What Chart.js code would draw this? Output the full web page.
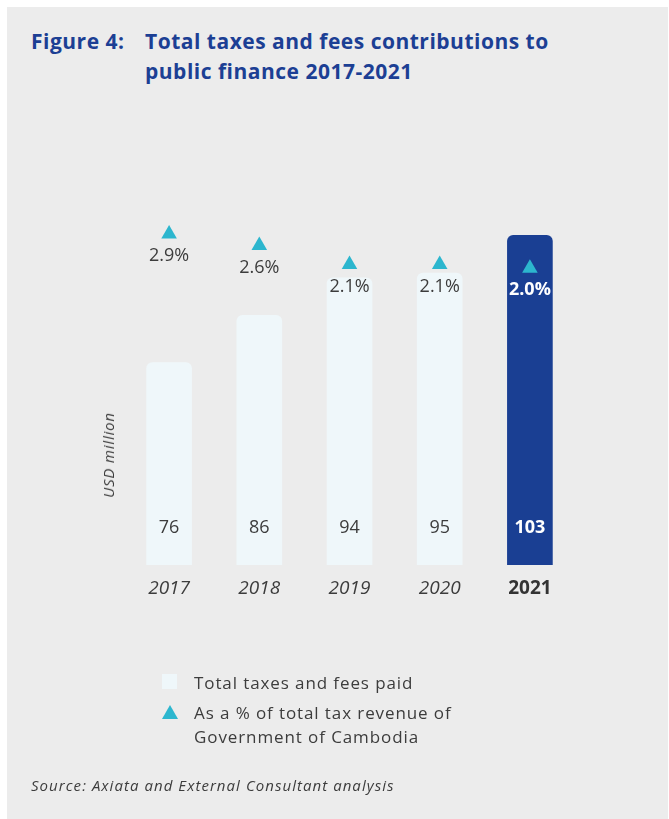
<!DOCTYPE html>
<html>
<head>
<meta charset="utf-8">
<script src="https://cdn.jsdelivr.net/npm/chart.js@4.4.1/dist/chart.umd.min.js"></script>
<style>
  body { margin: 0; background: #fff; width: 669px; height: 819px; overflow: hidden; }
  #panel { position: absolute; left: 7px; top: 7px; width: 661px; height: 812px; background: #ececec; }
  #chart { position: absolute; left: 0; top: 0; }
  .title { position: absolute; font-family: "Open Sans", sans-serif; font-weight: bold; font-size: 21px; letter-spacing: 0.5px; color: #1c3f94; white-space: nowrap; }
  .txt { position: absolute; font-family: "Open Sans", sans-serif; color: #3c3c3c; white-space: nowrap; }
  #ytitle { left: 108px; top: 455px; font-size: 15px; font-style: italic; letter-spacing: 0.8px; transform: translate(-50%, -50%) rotate(-90deg); }
  .legend { font-size: 17px; letter-spacing: 0.9px; }
  #sq { position: absolute; left: 162px; top: 674px; width: 15px; height: 15px; background: #eff7fa; }
  #tri { position: absolute; left: 162px; top: 705px; width: 16px; height: 14px; background: #2cb6ce; clip-path: polygon(50% 0, 100% 100%, 0 100%); }
  #source { left: 31px; top: 775px; font-size: 15px; font-style: italic; letter-spacing: 1.05px; }
</style>
</head>
<body>
<div id="panel"></div>
<div class="title" style="left:31px; top:27px;">Figure 4:</div>
<div class="title" style="left:145px; top:27px;">Total taxes and fees contributions to</div>
<div class="title" style="left:145px; top:57px;">public finance 2017-2021</div>
<canvas id="chart" width="669" height="819"></canvas>
<div class="txt" id="ytitle">USD million</div>
<div id="sq"></div>
<div class="txt legend" style="left:194px; top:671px;">Total taxes and fees paid</div>
<div id="tri"></div>
<div class="txt legend" style="left:194px; top:701px;">As a % of total tax revenue of</div>
<div class="txt legend" style="left:194px; top:725px;">Government of Cambodia</div>
<div class="txt" id="source">Source: Axiata and External Consultant analysis</div>

<script>
// data
var years = ['2017', '2018', '2019', '2020', '2021']
var taxesPaid = [76, 86, 94, 95, 103]          // USD million
var shareOfRevenue = [2.9, 2.6, 2.1, 2.1, 2.0] // % of total tax revenue

var lightBar = '#eff7fa'
var darkBar = '#1a3f93'
var teal = '#2cb6ce'
var textCol = '#3c3c3c'

var barColors = years.map(function (y, i) { return i === years.length - 1 ? darkBar : lightBar })

// writes the numbers: bar values near the base, percentages under the triangles
var valueLabels = {
    id: 'valueLabels',
    afterDatasetsDraw: function (chart) {
        var ctx = chart.ctx
        var area = chart.chartArea
        var last = years.length - 1
        ctx.save()
        ctx.textAlign = 'center'
        ctx.textBaseline = 'middle'

        var bars = chart.getDatasetMeta(1).data
        bars.forEach(function (bar, i) {
            ctx.font = (i === last ? 'bold ' : '') + '18px "Open Sans"'
            ctx.fillStyle = i === last ? '#ffffff' : textCol
            ctx.fillText(taxesPaid[i], bar.x, area.bottom - 37)
        })

        var pts = chart.getDatasetMeta(0).data
        pts.forEach(function (pt, i) {
            ctx.font = (i === last ? 'bold ' : '') + '18px "Open Sans"'
            ctx.fillStyle = i === last ? '#ffffff' : textCol
            ctx.fillText(shareOfRevenue[i].toFixed(1) + '%', pt.x, pt.y + 22)
        })
        ctx.restore()
    }
}

var ctx = document.getElementById('chart').getContext('2d')
var chart = new Chart(ctx, {
    type: 'bar',
    data: {
        labels: years,
        datasets: [
            {
                type: 'line',
                label: 'As a % of total tax revenue of Government of Cambodia',
                data: shareOfRevenue,
                yAxisID: 'y2',
                showLine: false,
                pointStyle: 'triangle',
                pointRadius: 9,
                pointBackgroundColor: teal,
                pointBorderColor: teal,
                pointBorderWidth: 0,
                order: 0
            },
            {
                label: 'Total taxes and fees paid',
                data: taxesPaid,
                yAxisID: 'y',
                backgroundColor: barColors,
                barThickness: 45,
                borderRadius: { topLeft: 6, topRight: 6, bottomLeft: 0, bottomRight: 0 },
                borderSkipped: 'bottom',
                order: 1
            }
        ]
    },
    options: {
        responsive: false,
        animation: false,
        layout: { padding: { left: 124, right: 94, top: 200, bottom: 214 } },
        plugins: {
            legend: { display: false },
            tooltip: { enabled: false }
        },
        scales: {
            x: {
                grid: { display: false, drawTicks: false },
                border: { display: false },
                afterFit: function (s) { s.height = 40 },
                ticks: {
                    padding: 12,
                    color: function (c) { return c.index === years.length - 1 ? '#333333' : textCol },
                    font: function (c) {
                        return c.index === years.length - 1
                            ? { family: 'Open Sans', size: 19, weight: 'bold', style: 'normal' }
                            : { family: 'Open Sans', size: 19, weight: 'normal', style: 'italic' }
                    }
                }
            },
            y: { display: false, min: 33, max: 110.5 },
            y2: { display: false, position: 'right', min: -5.78, max: 3.79 }
        }
    },
    plugins: [valueLabels]
})
</script>
</body>
</html>
